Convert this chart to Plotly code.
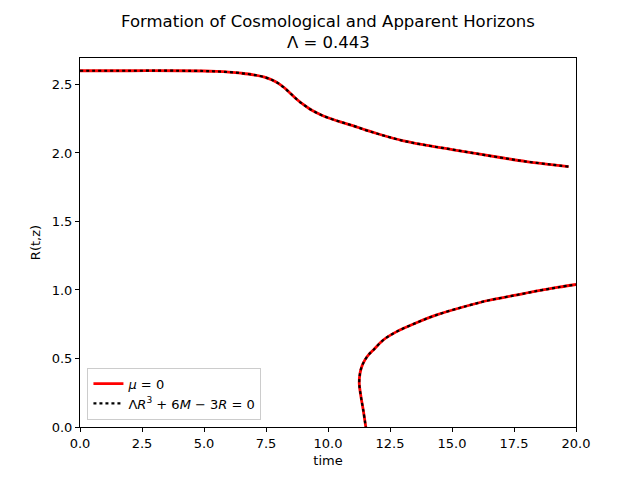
import plotly.graph_objects as go

# Upper branch (cosmological horizon)
upper_t = [0, 2, 4, 5, 5.5, 6, 6.5, 7, 7.5, 7.75, 8, 8.25, 8.5, 8.75, 9, 9.25, 9.5,
           9.75, 10, 10.5, 11, 11.5, 12, 13, 14, 15, 16, 17, 18, 19, 19.7]
upper_R = [2.6, 2.6, 2.6, 2.598, 2.595, 2.59, 2.582, 2.57, 2.55, 2.532, 2.508, 2.474,
           2.432, 2.39, 2.354, 2.323, 2.297, 2.275, 2.257, 2.227, 2.20, 2.168, 2.14,
           2.09, 2.055, 2.025, 1.995, 1.965, 1.937, 1.915, 1.90]

# Lower branch (apparent horizon)
lower_t = [11.54, 11.42, 11.33, 11.26, 11.29, 11.36, 11.49, 11.65, 11.83, 12.23, 12.77,
           13.57, 14.38, 15.59, 16.5, 17.5, 18.5, 19.3, 20.0]
lower_R = [-0.02, 0.124, 0.22, 0.32, 0.39, 0.44, 0.49, 0.53, 0.562, 0.635, 0.696,
           0.761, 0.818, 0.883, 0.925, 0.96, 0.995, 1.02, 1.04]

x_all = upper_t + [None] + lower_t
y_all = upper_R + [None] + lower_R

fig = go.Figure()
fig.add_trace(go.Scatter(
    x=x_all, y=y_all, mode="lines", name="<i>μ</i> = 0",
    line=dict(color="red", width=2.8, shape="spline", smoothing=1.0),
    connectgaps=False,
))
fig.add_trace(go.Scatter(
    x=x_all, y=y_all, mode="lines",
    name="Λ<i>R</i><sup>3</sup> + 6<i>M</i> − 3<i>R</i> = 0",
    line=dict(color="black", width=2.2, dash="dot", shape="spline", smoothing=1.0),
    connectgaps=False,
))

axis_common = dict(
    showline=True, linecolor="black", linewidth=1, mirror=True,
    ticks="outside", ticklen=4, tickcolor="black", showgrid=False, zeroline=False,
    tickfont=dict(size=13, color="black"),
)

fig.update_layout(
    width=640, height=480,
    paper_bgcolor="white", plot_bgcolor="white",
    font=dict(family="DejaVu Sans", color="black"),
    margin=dict(l=80, r=64, t=58, b=53),
    xaxis=dict(range=[0, 20], tickvals=[0, 2.5, 5, 7.5, 10, 12.5, 15, 17.5, 20],
               ticktext=["0.0", "2.5", "5.0", "7.5", "10.0", "12.5", "15.0", "17.5", "20.0"],
               title=dict(text="time", font=dict(size=13), standoff=6), **axis_common),
    yaxis=dict(range=[0, 2.693], tickvals=[0, 0.5, 1, 1.5, 2, 2.5],
               ticktext=["0.0", "0.5", "1.0", "1.5", "2.0", "2.5"],
               title=dict(text="R(t,z)", font=dict(size=13), standoff=8), **axis_common),
    legend=dict(x=0.015, y=0.02, xanchor="left", yanchor="bottom",
                bgcolor="rgba(255,255,255,0.8)", bordercolor="#cccccc", borderwidth=1,
                font=dict(size=13, color="black")),
    showlegend=True,
    annotations=[
        dict(text="Formation of Cosmological and Apparent Horizons", xref="paper",
             yref="paper", x=0.5, y=1.0976, xanchor="center", yanchor="middle",
             showarrow=False, font=dict(size=16.5, color="black")),
        dict(text="Λ = 0.443", xref="paper", yref="paper", x=0.5, y=1.0407,
             xanchor="center", yanchor="middle", showarrow=False,
             font=dict(size=16.5, color="black")),
    ],
)

fig.write_html("out.html", config={"displayModeBar": False},
               post_script="document.body.style.margin='0';document.body.style.padding='0';")
